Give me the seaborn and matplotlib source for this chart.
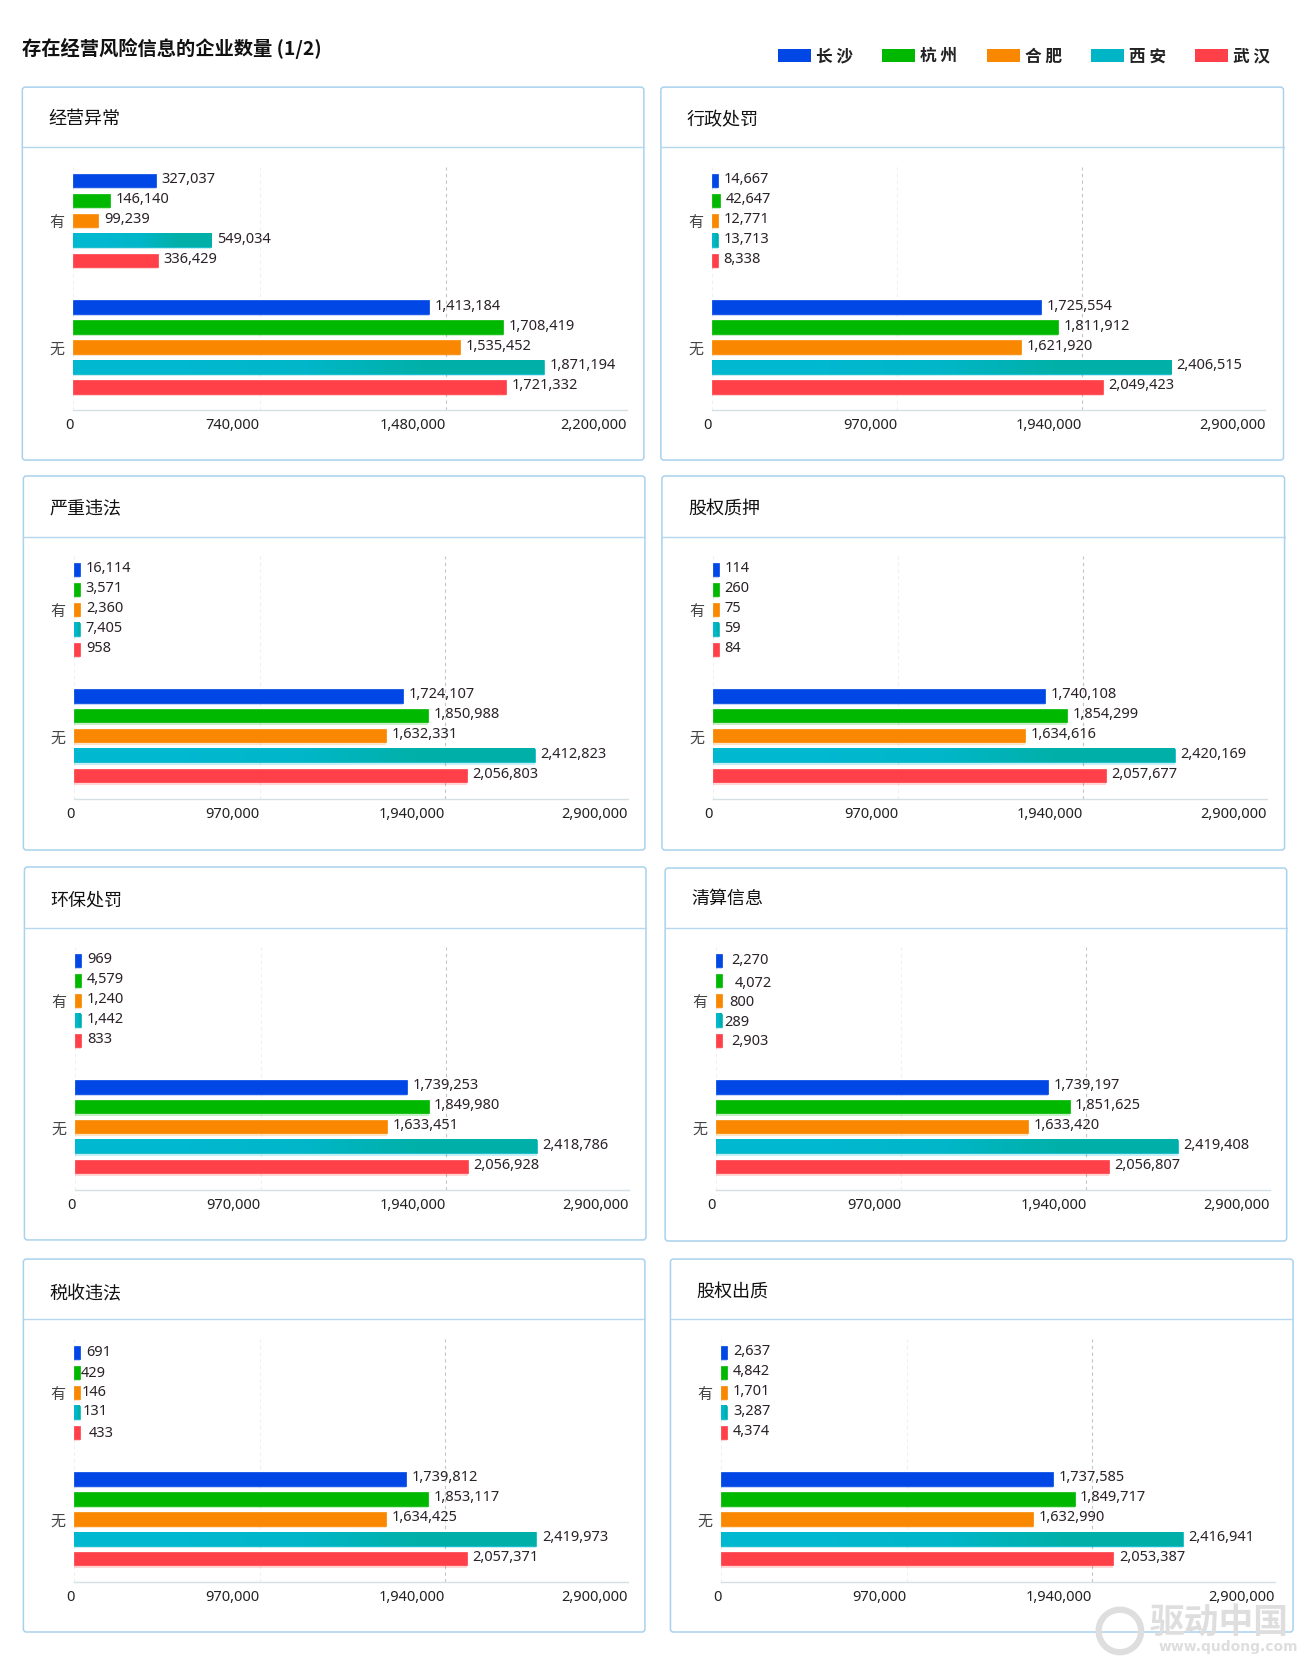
import matplotlib
matplotlib.use("Agg")
import matplotlib.pyplot as plt
import matplotlib.patheffects as pe
from matplotlib.colors import LinearSegmentedColormap
from matplotlib.patches import FancyBboxPatch, Patch, Circle
from matplotlib.transforms import IdentityTransform, ScaledTranslation
import pandas as pd
import seaborn as sns

cities = ["长沙", "杭州", "合肥", "西安", "武汉"]
answers = ["有", "无"]
xticks_small = [0, 740000, 1480000, 2200000]
xticks_large = [0, 970000, 1940000, 2900000]

titles = ["经营异常", "行政处罚", "严重违法", "股权质押", "环保处罚", "清算信息", "税收违法", "股权出质"]

yes_jingying = [327037, 146140, 99239, 549034, 336429]
no_jingying = [1413184, 1708419, 1535452, 1871194, 1721332]
yes_xingzheng = [14667, 42647, 12771, 13713, 8338]
no_xingzheng = [1725554, 1811912, 1621920, 2406515, 2049423]
yes_yanzhong = [16114, 3571, 2360, 7405, 958]
no_yanzhong = [1724107, 1850988, 1632331, 2412823, 2056803]
yes_guquan = [114, 260, 75, 59, 84]
no_guquan = [1740108, 1854299, 1634616, 2420169, 2057677]
yes_huanbao = [969, 4579, 1240, 1442, 833]
no_huanbao = [1739253, 1849980, 1633451, 2418786, 2056928]
yes_qingsuan = [2270, 4072, 800, 289, 2903]
no_qingsuan = [1739197, 1851625, 1633420, 2419408, 2056807]
yes_shuishou = [691, 429, 146, 131, 433]
no_shuishou = [1739812, 1853117, 1634425, 2419973, 2057371]
yes_chuzhi = [2637, 4842, 1701, 3287, 4374]
no_chuzhi = [1737585, 1849717, 1632990, 2416941, 2053387]

yes_all = [yes_jingying, yes_xingzheng, yes_yanzhong, yes_guquan, yes_huanbao, yes_qingsuan, yes_shuishou, yes_chuzhi]
no_all = [no_jingying, no_xingzheng, no_yanzhong, no_guquan, no_huanbao, no_qingsuan, no_shuishou, no_chuzhi]

colors = ["#0047e6", "#00b800", "#f98800", "#00b6c6", "#ff4048"]

W, H = 1310, 1666
S = 1.0625
# panel boxes: left, right, top, bottom, header line, plot left, plot right, axis line
layout = [
    (21, 606, 82, 433, 138, 69, 590, 386),
    (622, 1208, 82, 433, 138, 670, 1191, 386),
    (22, 607, 448, 800, 505, 70, 591, 752),
    (623, 1209, 448, 800, 505, 671, 1192, 752),
    (23, 608, 816, 1167, 873, 71, 592, 1120),
    (626, 1211, 817, 1168, 873, 674, 1195, 1120),
    (22, 607, 1185, 1536, 1241, 70, 591, 1489),
    (631, 1217, 1185, 1536, 1241, 679, 1200, 1489),
]
# vertical shift of each panel heading, px
title_shift = [2, 3, 2, 3, 3, 1, 6, 4]
# hand-placed 有 labels in the source (dx, dy in px relative to default)
nudges = {
    "清算信息": [(4, 1.0), (7.5, 4.0), (1.8, 2.8), (-3.3, 3.5), (4, 2.4)],
    "税收违法": [(0.7, 0.5), (-4.7, 2.2), (-4.3, 1.2), (-3, 0.5), (2.7, 2.2)],
}

cjk = ["Noto Sans CJK SC", "DejaVu Sans"]
num = ["Noto Sans", "DejaVu Sans"]
sns.set_theme(style="white")
plt.rcParams["font.family"] = cjk
plt.rcParams["axes.unicode_minus"] = False

fig = plt.figure(figsize=(W / 100, H / 100), dpi=100, facecolor="white")
px = 0.72  # points per pixel at dpi 100
BORDER = "#a9d2ee"
MIN_BAR_PX = 6.0
teal_cmap = LinearSegmentedColormap.from_list("teal", ["#00b8d0", "#00b6c8", "#00b0a8"])


def add_panel_frame(left, right, top, bottom, header):
    box = FancyBboxPatch((left, H - bottom), right - left, bottom - top,
                         boxstyle="round,pad=0,rounding_size=3", fc="white", ec=BORDER, lw=1.1,
                         transform=IdentityTransform(), zorder=0)
    fig.add_artist(box)
    line = plt.Line2D([left, right], [H - header, H - header], color="#b5d8f0", lw=1.0,
                      transform=IdentityTransform(), zorder=1)
    fig.add_artist(line)


for i, title in enumerate(titles):
    l, r, t, b, hd, pl, pr, ay = [v * S for v in layout[i]]
    add_panel_frame(l, r, t, b, hd)
    fig.text((l + 24.5 * S) / W, 1 - (t + (hd - t) / 2 + title_shift[i]) / H, title, fontsize=13, color="#111111",
             ha="left", va="center", family=cjk)

    band = 119 * S
    ax_top = ay - 2 * band
    ax = fig.add_axes([pl / W, 1 - ay / H, (pr - pl) / W, (ay - ax_top) / H], facecolor="none", zorder=3)
    df = pd.DataFrame({
        "answer": [answers[0]] * 5 + [answers[1]] * 5,
        "city": cities * 2,
        "count": yes_all[i] + no_all[i],
    })
    sns.barplot(data=df, y="answer", x="count", hue="city", order=answers, hue_order=cities,
                palette=colors, orient="h", width=0.79, gap=0.33, saturation=1, legend=False, ax=ax)

    ticks = xticks_small if i == 0 else xticks_large
    ax.set_xlabel("")
    ax.set_ylabel("")
    ax.set_xticks(ticks)
    ax.set_xticklabels([f"{v:,}" for v in ticks], ha="right", family=num, fontsize=10.5, color="#222222")
    ax.tick_params(axis="x", length=0, pad=6)
    ax.tick_params(axis="y", length=0, pad=6.3, labelsize=10.8, labelcolor="#444444")
    for lab in ax.get_yticklabels():
        lab.set_transform(lab.get_transform() + ScaledTranslation(0, -1.5 / 100, fig.dpi_scale_trans))
    for sp in ["top", "right", "left"]:
        ax.spines[sp].set_visible(False)
    ax.spines["bottom"].set_color("#d5e0e6")
    ax.spines["bottom"].set_linewidth(1.0)

    # gridlines
    ax.grid(False)
    shades = ["#efefef", "#efefef", "#c4c4c4"]
    for tick, shade in zip(ticks[:3], shades):
        ax.plot([tick, tick], [1.5, -0.42], color=shade, lw=0.8, ls=(0, (3, 3)), zorder=0.5)

    unit = ticks[-1] / (pr - pl)
    for c_idx, container in enumerate(ax.containers):
        col = colors[c_idx]
        for a_idx, bar in enumerate(container.patches):
            value = int(round(bar.get_width()))
            if bar.get_width() < MIN_BAR_PX * unit:
                bar.set_width(MIN_BAR_PX * unit)
            bar.set_edgecolor(col)
            bar.set_linewidth(0.5)
            bar.set_joinstyle("round")
            bar.set_zorder(2)
            bar.set_path_effects([
                pe.SimplePatchShadow(offset=(0, -1.6), shadow_rgbFace=col, alpha=0.22),
                pe.Normal(),
            ])
            x0, x1 = bar.get_x(), bar.get_x() + bar.get_width()
            y0, y1 = bar.get_y(), bar.get_y() + bar.get_height()
            if cities[c_idx] == "西安":
                ax.imshow([[0.0, 1.0]], cmap=teal_cmap, vmin=0, vmax=1, extent=(x0, x1, y1, y0),
                          aspect="auto", interpolation="bilinear", zorder=2.1)
            dx, dy = 5.5, 0.9
            if a_idx == 0 and title in nudges:
                ndx, ndy = nudges[title][c_idx]
                dx, dy = dx + ndx, dy - ndy
            ax.annotate(f"{value:,}", xy=(x1, (y0 + y1) / 2),
                        xytext=(dx * px, dy * px), textcoords="offset points", ha="left", va="center",
                        family=num, fontsize=10.5, color="#2a2228", zorder=4)
    ax.set_xlim(0, ticks[-1])
    ax.set_ylim(1.5, -0.5)
    ax.set_aspect("auto")

# title
fig.text(22 / W, 1 - 48 / H, "存在经营风险信息的企业数量 (1/2)", fontsize=13.9, fontweight="bold",
         color="#111111", ha="left", va="center", family=cjk)

# legend
handles = [Patch(facecolor=c, edgecolor="none") for c in colors]
labels = [" ".join(list(n)) for n in cities]
fig.legend(handles, labels, ncol=5, frameon=False, loc="center right",
           bbox_to_anchor=(1195.5 * S / W, 1 - 53 * S / H),
           fontsize=12, handlelength=1.98, handleheight=0.8, handletextpad=0.30,
           columnspacing=1.76, borderpad=0, borderaxespad=0,
           labelcolor="#222222", prop={"family": cjk, "size": 12, "weight": "bold"})

# watermark
wm = "#dedede"
ring = Circle((1054 * S, H - 1535 * S), 20 * S, fc="none", ec=wm, lw=4.5, transform=IdentityTransform(), zorder=10)
fig.add_artist(ring)
fig.text(1082 * S / W, 1 - 1528 * S / H, "驱动中国", fontsize=25, fontweight="bold", color=wm,
         ha="left", va="center", family=cjk, zorder=10)
fig.text(1222 * S / W, 1 - 1550 * S / H, "www.qudong.com", fontsize=10, fontweight="bold", color=wm,
         ha="right", va="center", family="DejaVu Sans", zorder=10)

fig.savefig("out.png", dpi=100, facecolor="white")
